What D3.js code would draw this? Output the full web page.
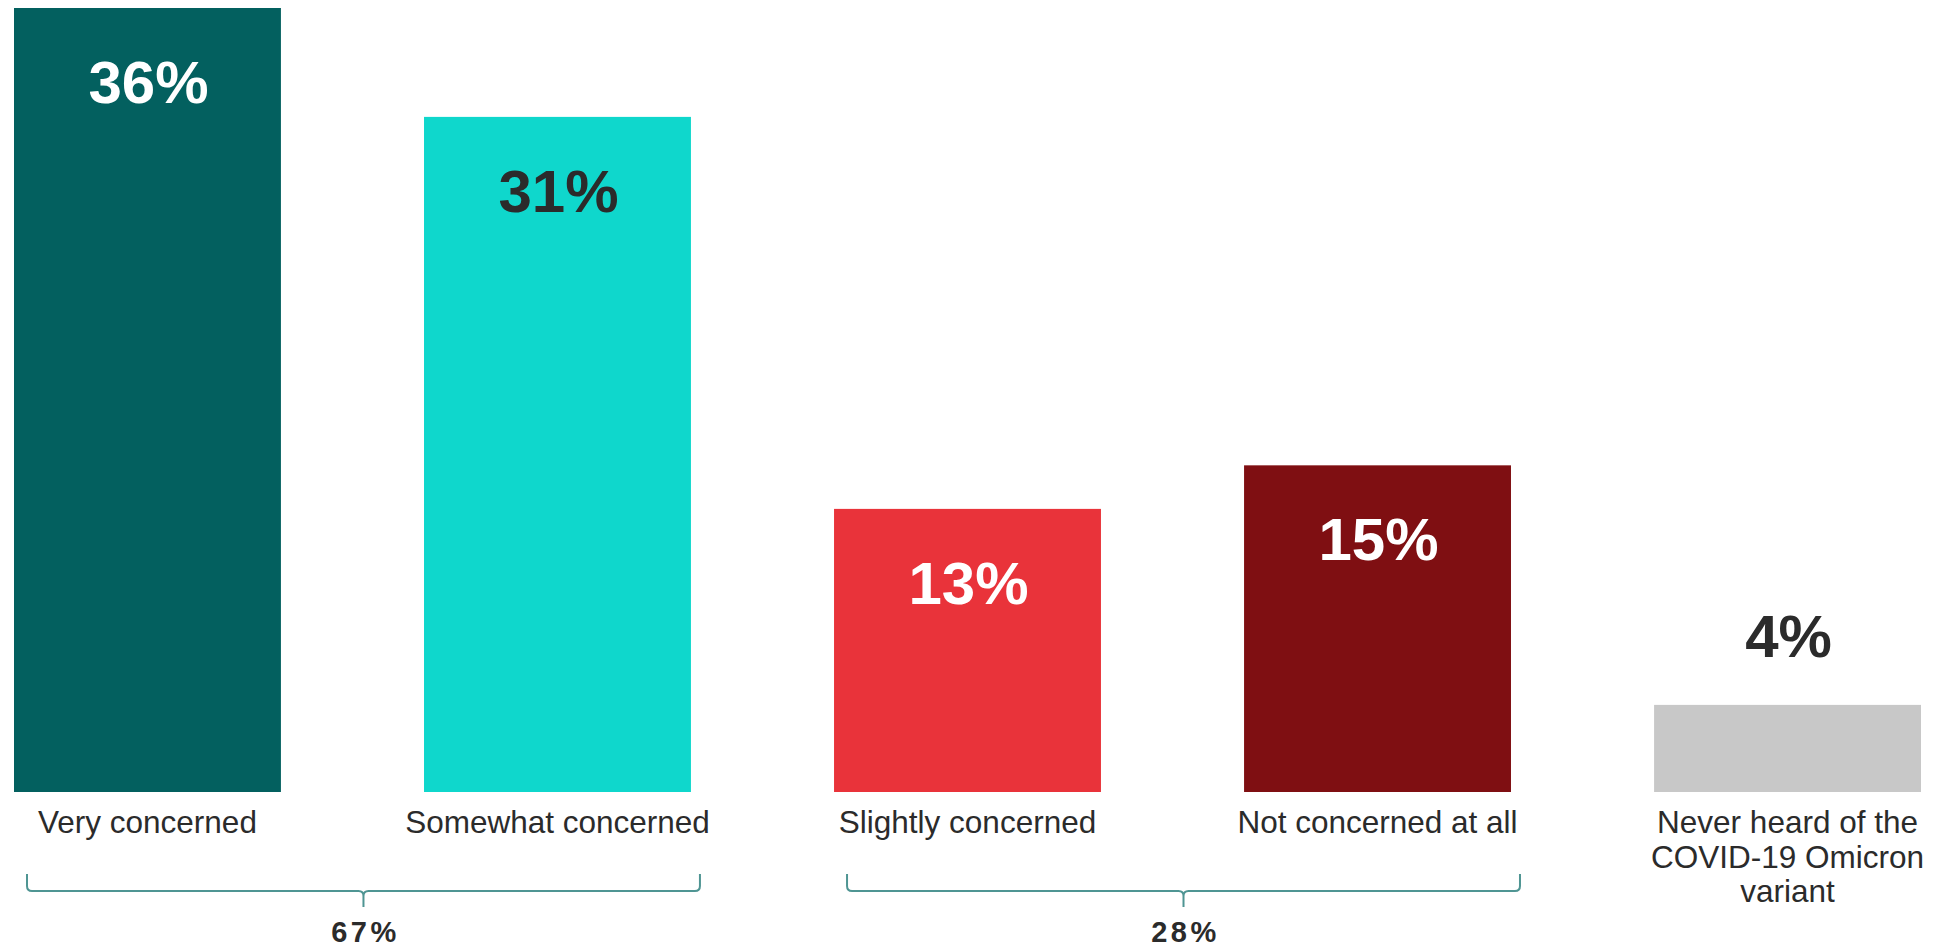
<!DOCTYPE html>
<html>
<head>
<meta charset="utf-8">
<script src="https://cdn.jsdelivr.net/npm/d3@7"></script>
<style>
  html, body { margin: 0; padding: 0; background: #ffffff; }
  svg { display: block; font-family: "Liberation Sans", Arial, sans-serif; }
</style>
</head>
<body>
<svg id="chart" width="1946" height="949"></svg>
<script>
// ---- data ----
const categories = ["Very concerned", "Somewhat concerned", "Slightly concerned", "Not concerned at all", "Never heard of the COVID-19 Omicron variant"];
const categoryLines = [["Very concerned"], ["Somewhat concerned"], ["Slightly concerned"], ["Not concerned at all"], ["Never heard of the", "COVID-19 Omicron", "variant"]];
const values = [36, 31, 13, 15, 4];
const valueLabels = ["36%", "31%", "13%", "15%", "4%"];
const barColors = ["#03605F", "#0FD7CC", "#E9333A", "#7F0F12", "#C8C8C8"];
const labelColors = ["#ffffff", "#2B2B2B", "#ffffff", "#ffffff", "#2B2B2B"];
const groups = [
  { from: "Very concerned", to: "Somewhat concerned", label: "67%" },
  { from: "Slightly concerned", to: "Not concerned at all", label: "28%" }
];

// ---- layout ----
const svg = d3.select("#chart");
const baseline = 792;
const x = d3.scaleBand().domain(categories).range([14, 1921]).paddingInner(0.349).paddingOuter(0);
const y = d3.scaleLinear().domain([0, 36]).range([baseline, 8]);
const textDark = "#2B2B2B";

const data = categories.map((c, i) => ({ c, v: values[i], lab: valueLabels[i], col: barColors[i], lc: labelColors[i], lines: categoryLines[i] }));

// bars
svg.append("g").selectAll("rect").data(data).join("rect")
  .attr("x", d => x(d.c))
  .attr("y", d => y(d.v))
  .attr("width", x.bandwidth())
  .attr("height", d => y(0) - y(d.v))
  .attr("fill", d => d.col);

// value labels
svg.append("g").selectAll("text").data(data).join("text")
  .attr("x", d => x(d.c) + x.bandwidth() / 2 + 1)
  .attr("y", d => (y(0) - y(d.v) > 150) ? y(d.v) + 95 : y(d.v) - 48)
  .attr("text-anchor", "middle")
  .attr("font-size", 60)
  .attr("font-weight", "bold")
  .attr("fill", d => d.lc)
  .text(d => d.lab);

// category labels
const catG = svg.append("g").selectAll("text").data(data).join("text")
  .attr("text-anchor", "middle")
  .attr("font-size", 31.5)
  .attr("fill", textDark)
  .attr("transform", d => `translate(${x(d.c) + x.bandwidth() / 2},${baseline + 41})`);
catG.selectAll("tspan").data(d => d.lines).join("tspan")
  .attr("x", 0)
  .attr("y", (l, i) => i * 34.5)
  .text(l => l);

// group brackets
const bg = svg.append("g");
groups.forEach(g => {
  const x0 = x(g.from) + 13;
  const x1 = x(g.to) + x.bandwidth() + 9;
  const xm = (x0 + x1) / 2;
  const yTop = baseline + 82, yMid = baseline + 99, yTip = baseline + 115;
  const r = 5;
  const path = d3.path();
  path.moveTo(x0, yTop);
  path.lineTo(x0, yMid - r);
  path.quadraticCurveTo(x0, yMid, x0 + r, yMid);
  path.lineTo(xm - r, yMid);
  path.quadraticCurveTo(xm, yMid, xm, yMid + r);
  path.lineTo(xm, yTip);
  path.moveTo(xm, yMid + r);
  path.quadraticCurveTo(xm, yMid, xm + r, yMid);
  path.lineTo(x1 - r, yMid);
  path.quadraticCurveTo(x1, yMid, x1, yMid - r);
  path.lineTo(x1, yTop);
  bg.append("path")
    .attr("d", path.toString())
    .attr("fill", "none")
    .attr("stroke", "#4F9593")
    .attr("stroke-width", 2);
  bg.append("text")
    .attr("x", xm + 2)
    .attr("y", baseline + 150)
    .attr("text-anchor", "middle")
    .attr("font-size", 29)
    .attr("font-weight", "bold")
    .attr("letter-spacing", 3.5)
    .attr("fill", textDark)
    .text(g.label);
});
</script>
</body>
</html>
